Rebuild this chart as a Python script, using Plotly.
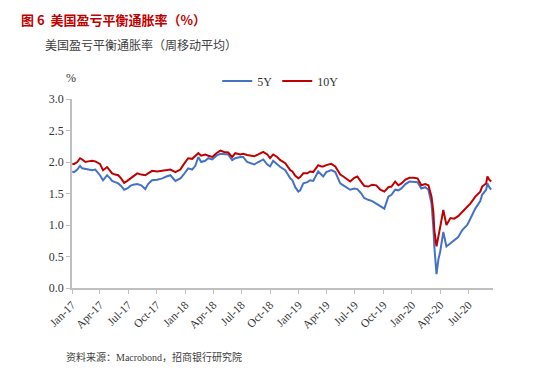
import plotly.graph_objects as go

dates = [
    "2017-01-02", "2017-01-08", "2017-01-18", "2017-01-27", "2017-02-03", "2017-02-13", "2017-02-22",
    "2017-03-07", "2017-03-17", "2017-03-26", "2017-04-01", "2017-04-11", "2017-04-24", "2017-05-04",
    "2017-05-10", "2017-05-20", "2017-05-30", "2017-06-08", "2017-06-18", "2017-06-28", "2017-07-08",
    "2017-07-17", "2017-07-30", "2017-08-12", "2017-08-25", "2017-09-03", "2017-09-16", "2017-10-02",
    "2017-10-19", "2017-11-01", "2017-11-14", "2017-11-30", "2017-12-16", "2017-12-25",
    "2018-01-10", "2018-01-23", "2018-02-02", "2018-02-12", "2018-02-21", "2018-03-06", "2018-03-16",
    "2018-03-29", "2018-04-11", "2018-04-24", "2018-05-06", "2018-05-19", "2018-06-01", "2018-06-11",
    "2018-06-27", "2018-07-06", "2018-07-19", "2018-07-29", "2018-08-11", "2018-08-24", "2018-09-09",
    "2018-09-22", "2018-10-01", "2018-10-11", "2018-10-24", "2018-11-03", "2018-11-19", "2018-12-05",
    "2018-12-12", "2018-12-21", "2018-12-31",
    "2019-01-06", "2019-01-16", "2019-01-29", "2019-02-07", "2019-02-17", "2019-03-05", "2019-03-15",
    "2019-03-21", "2019-03-31", "2019-04-16", "2019-04-29", "2019-05-15", "2019-05-25", "2019-06-07",
    "2019-06-16", "2019-06-29", "2019-07-09", "2019-07-22", "2019-07-31", "2019-08-13", "2019-08-26",
    "2019-09-08", "2019-09-21", "2019-10-04", "2019-10-17", "2019-10-27", "2019-11-08", "2019-11-18",
    "2019-11-28", "2019-12-11", "2019-12-24",
    "2020-01-06", "2020-01-19", "2020-01-31", "2020-02-13", "2020-02-23", "2020-03-04", "2020-03-10",
    "2020-03-13", "2020-03-20", "2020-03-26", "2020-04-01", "2020-04-11", "2020-04-21", "2020-05-04",
    "2020-05-16", "2020-05-29", "2020-06-11", "2020-06-27", "2020-07-07", "2020-07-23", "2020-08-08",
    "2020-08-14", "2020-08-27", "2020-08-31", "2020-09-06", "2020-09-12",
]

y10 = [
    1.97, 1.97, 2.00, 2.06, 2.04, 2.00, 2.01,
    2.02, 2.01, 1.98, 1.97, 1.87, 1.92, 1.86,
    1.82, 1.80, 1.79, 1.74, 1.67, 1.70, 1.74,
    1.78, 1.82, 1.80, 1.79, 1.82, 1.86, 1.85,
    1.86, 1.87, 1.88, 1.84, 1.88, 1.95,
    2.06, 2.05, 2.10, 2.14, 2.10, 2.12, 2.10,
    2.08, 2.14, 2.18, 2.16, 2.15, 2.08, 2.14,
    2.12, 2.13, 2.11, 2.10, 2.09, 2.12, 2.16,
    2.12, 2.06, 2.12, 2.08, 2.03, 1.98, 1.87,
    1.85, 1.78, 1.74,
    1.76, 1.82, 1.82, 1.85, 1.84, 1.95, 1.93,
    1.93, 1.95, 1.97, 1.93, 1.80, 1.77, 1.72,
    1.69, 1.75, 1.77, 1.68, 1.62, 1.61, 1.64,
    1.63, 1.56, 1.53, 1.60, 1.61, 1.69, 1.63,
    1.66, 1.72, 1.75,
    1.75, 1.74, 1.63, 1.65, 1.63, 1.45, 1.20,
    0.92, 0.66, 0.80, 0.97, 1.24, 1.00, 1.11,
    1.10, 1.14, 1.20, 1.29, 1.34, 1.45, 1.53,
    1.61, 1.66, 1.77, 1.72, 1.69,
]

y5 = [
    1.85, 1.84, 1.88, 1.94, 1.90, 1.89, 1.88,
    1.87, 1.88, 1.83, 1.79, 1.71, 1.79, 1.74,
    1.70, 1.68, 1.66, 1.62, 1.56, 1.58, 1.62,
    1.64, 1.65, 1.63, 1.57, 1.65, 1.71, 1.72,
    1.74, 1.77, 1.79, 1.70, 1.74, 1.79,
    1.90, 1.88, 1.94, 2.08, 2.00, 2.02, 2.06,
    2.04, 2.10, 2.13, 2.12, 2.12, 2.03, 2.06,
    2.08, 2.08, 2.00, 1.98, 1.96, 2.00, 2.04,
    1.96, 1.93, 2.02, 1.96, 1.92, 1.87, 1.74,
    1.71, 1.60, 1.53,
    1.55, 1.66, 1.68, 1.71, 1.70, 1.85, 1.80,
    1.77, 1.84, 1.87, 1.84, 1.66, 1.63, 1.58,
    1.56, 1.58, 1.57, 1.50, 1.43, 1.40, 1.38,
    1.34, 1.30, 1.26, 1.45, 1.48, 1.56, 1.55,
    1.58, 1.65, 1.69,
    1.69, 1.68, 1.58, 1.60, 1.56, 1.34, 0.95,
    0.66, 0.22, 0.45, 0.58, 0.89, 0.66, 0.71,
    0.75, 0.81, 0.92, 1.00, 1.10, 1.26, 1.38,
    1.48, 1.56, 1.66, 1.60, 1.56,
]

y_ticks = [0.0, 0.5, 1.0, 1.5, 2.0, 2.5, 3.0]

SERIF = "Liberation Serif, Times New Roman, serif"
CJK = "Noto Sans CJK SC"
AXIS_GREY = "#BFBFBF"

fig = go.Figure()
fig.add_trace(go.Scatter(x=dates, y=y5, mode="lines", name="5Y",
                         line=dict(color="#4472C4", width=2)))
fig.add_trace(go.Scatter(x=dates, y=y10, mode="lines", name="10Y",
                         line=dict(color="#C00000", width=2)))

fig.update_layout(
    width=542, height=375,
    margin=dict(l=64, r=57, t=91, b=95, autoexpand=False),
    paper_bgcolor="white", plot_bgcolor="white",
    showlegend=True,
    legend=dict(orientation="h", x=0.345, y=1.095, xanchor="left", yanchor="middle",
                font=dict(family=SERIF, size=12, color="#333333"),
                itemwidth=30, tracegroupgap=0, bgcolor="rgba(0,0,0,0)"),
    xaxis=dict(
        type="date", range=["2017-01-01", "2020-09-18"],
        dtick="M3", tick0="2017-01-01", tickformat="%b-%y", tickangle=-45,
        showgrid=False, zeroline=False, automargin=False,
        showline=True, linecolor=AXIS_GREY, linewidth=1.5,
        ticks="outside", ticklen=4, tickcolor=AXIS_GREY,
        tickfont=dict(family=SERIF, size=11.5, color="#333333"),
    ),
    yaxis=dict(
        range=[0, 3], tickvals=y_ticks, tickformat=".1f",
        showgrid=False, zeroline=False, automargin=False,
        showline=True, linecolor=AXIS_GREY, linewidth=1.5,
        ticks="outside", ticklen=4, tickcolor=AXIS_GREY,
        tickfont=dict(family=SERIF, size=12, color="#333333"),
    ),
    annotations=[
        dict(text="<b>图 6  美国盈亏平衡通胀率（%）</b>", xref="paper", yref="paper",
             x=-0.124, y=1.478, xanchor="left", yanchor="top", showarrow=False,
             borderpad=0,
             font=dict(family=CJK, size=13, color="#C00000")),
        dict(text="美国盈亏平衡通胀率（周移动平均）", xref="paper", yref="paper",
             x=-0.069, y=1.291, xanchor="left", yanchor="middle", showarrow=False,
             font=dict(family=CJK, size=12, color="#404040")),
        dict(text="%", xref="paper", yref="paper",
             x=-0.02, y=1.11, xanchor="left", yanchor="middle", showarrow=False,
             font=dict(family=SERIF, size=12, color="#333333")),
        dict(text="资料来源：<span style='font-family:Liberation Serif'>Macrobond</span>，招商银行研究院",
             xref="paper", yref="paper",
             x=-0.019, y=-0.365, xanchor="left", yanchor="middle", showarrow=False,
             font=dict(family=CJK, size=10, color="#404040")),
    ],
)

fig.write_html("out.html")
